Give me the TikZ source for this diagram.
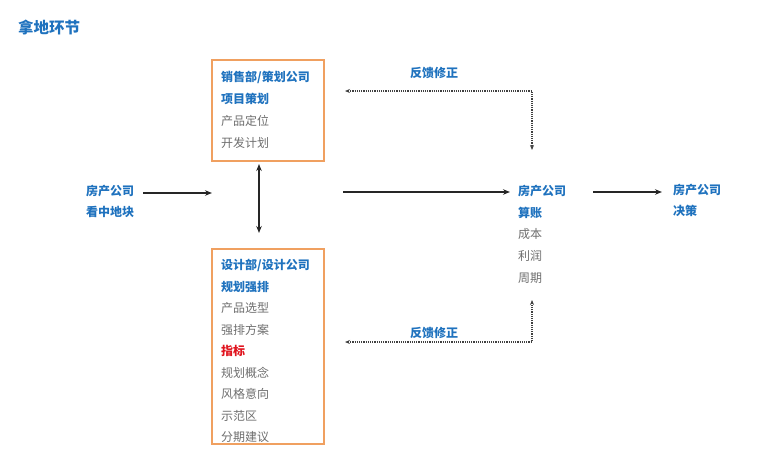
\documentclass[tikz,border=0pt]{standalone}
\usepackage{fontspec}
\setmainfont{Noto Sans CJK SC}
\usetikzlibrary{arrows.meta}
\definecolor{tblue}{HTML}{1F72BE}
\definecolor{tgray}{HTML}{6E6E6E}
\definecolor{tred}{HTML}{E0141E}
\definecolor{borange}{HTML}{F0A060}
\begin{document}
\begin{tikzpicture}[x=1pt,y=-1pt,
  txt/.style={anchor=west,inner sep=0pt,font=\fontsize{12}{12}\selectfont},
  hl/.style={txt,text=tblue,font=\fontsize{12}{12}\selectfont\bfseries},
  pl/.style={txt,text=tgray},
  rd/.style={txt,text=tred,font=\fontsize{12}{12}\selectfont\bfseries},
  box/.style={draw=borange,line width=2.4pt,inner sep=0pt},
  arr/.style={line width=1.2pt,draw=black!85,-{Stealth[length=7pt,width=5.5pt]}},
  darr/.style={line width=1.2pt,draw=black!85,{Stealth[length=7pt,width=5.5pt]}-{Stealth[length=7pt,width=5.5pt]}},
  fb/.style={line width=1.3pt,draw=black!75,dash pattern=on 1.2pt off 1pt,{Stealth[length=5pt,width=4pt]}-{Stealth[length=5pt,width=4pt]}}]
\useasboundingbox (0,0) rectangle (760,464);
% title
\node[anchor=west,inner sep=0pt,text=tblue,font=\fontsize{15.5}{15.5}\selectfont\bfseries] (title) at (18,27) {拿地环节};
% boxes
\node[box,minimum width=112pt,minimum height=101pt] (topbox) at (268,110.5) {};
\node[box,minimum width=112pt,minimum height=195pt] (botbox) at (268,346.5) {};
% top box text
\node[hl] (t1) at (221,77) {销售部/策划公司};
\node[hl] (t2) at (221,99) {项目策划};
\node[pl] (t3) at (221,121) {产品定位};
\node[pl] (t4) at (221,143) {开发计划};
% bottom box text
\node[hl] (b1) at (221,265) {设计部/设计公司};
\node[hl] (b2) at (221,286.5) {规划强排};
\node[pl] (b3) at (221,308) {产品选型};
\node[pl] (b4) at (221,329.5) {强排方案};
\node[rd] (b5) at (221,351) {指标};
\node[pl] (b6) at (221,372.5) {规划概念};
\node[pl] (b7) at (221,394) {风格意向};
\node[pl] (b8) at (221,415.5) {示范区};
\node[pl] (b9) at (221,437) {分期建议};
% left
\node[hl] (l1) at (86,191) {房产公司};
\node[hl] (l2) at (86,212) {看中地块};
% middle right
\node[hl] (m1) at (518,191) {房产公司};
\node[hl] (m2) at (518,212.5) {算账};
\node[pl] (m3) at (518,234) {成本};
\node[pl] (m4) at (518,256) {利润};
\node[pl] (m5) at (518,278) {周期};
% right
\node[hl] (r1) at (673,190) {房产公司};
\node[hl] (r2) at (673,211) {决策};
% feedback labels
\node[hl,anchor=center] (f1) at (434,73) {反馈修正};
\node[hl,anchor=center] (f2) at (434,333) {反馈修正};
% coordinates
\coordinate (a1s) at (143,193);
\coordinate (a1e) at (212,193);
\coordinate (a2s) at (343,192);
\coordinate (a2e) at (510,192);
\coordinate (a3s) at (593,192);
\coordinate (a3e) at (662,192);
\coordinate (vt) at (259,164);
\coordinate (vb) at (259,233);
\coordinate (ft1) at (345,91);
\coordinate (fc1) at (532,91);
\coordinate (fe1) at (532,150);
\coordinate (ft2) at (345,342);
\coordinate (fc2) at (532,342);
\coordinate (fe2) at (532,300);
% arrows
\draw[arr] (a1s) -- (a1e);
\draw[arr] (a2s) -- (a2e);
\draw[arr] (a3s) -- (a3e);
\draw[darr] (vt) -- (vb);
\draw[fb] (ft1) -- (fc1) -- (fe1);
\draw[fb] (ft2) -- (fc2) -- (fe2);
\end{tikzpicture}
\end{document}
